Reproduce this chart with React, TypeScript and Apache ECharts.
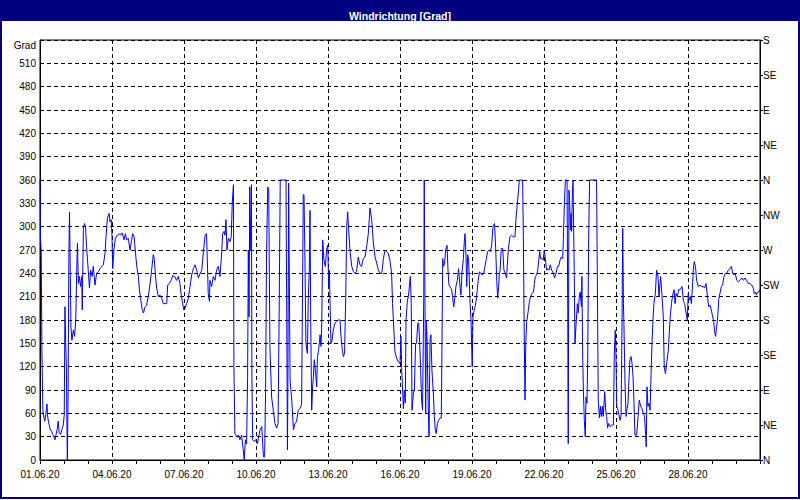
import React, { useEffect, useRef } from "react";
import * as echarts from "echarts";

const chartTitle = "Windrichtung [Grad]";
const leftAxisName = "Grad";
const startYear = 2020;
const startMonth = 5; // June (0-based)
const startDay = 1;
const compassLabels = ["N", "NE", "E", "SE", "S", "SW", "W", "NW", "N", "NE", "E", "SE", "S"];

// time in days since 01.06.20 00:00
const dayOffsets = [
  0.0, 0.02, 0.05, 0.08, 0.12, 0.16, 0.2, 0.25, 0.29, 0.31, 0.35, 0.42, 0.48, 0.53, 0.58, 0.625, 0.67, 0.72, 0.76, 0.8,
  0.86, 0.92, 0.97, 1.01, 1.04, 1.07, 1.1, 1.12, 1.14, 1.17, 1.2, 1.23, 1.26, 1.29, 1.33, 1.39, 1.44, 1.49, 1.53, 1.56,
  1.6, 1.64, 1.69, 1.74, 1.76, 1.81, 1.86, 1.9, 1.94, 2.01, 2.06, 2.11, 2.17, 2.22, 2.29, 2.36, 2.43, 2.5, 2.57, 2.64,
  2.71, 2.75, 2.81, 2.88, 2.92, 2.97, 3.0, 3.03, 3.08, 3.14, 3.22, 3.31, 3.36, 3.43, 3.5, 3.56, 3.61, 3.68, 3.75, 3.81,
  3.86, 3.92, 3.97, 4.03, 4.1, 4.14, 4.19, 4.25, 4.31, 4.38, 4.44, 4.51, 4.58, 4.65, 4.72, 4.76, 4.81, 4.86, 4.93, 5.0,
  5.07, 5.14, 5.21, 5.28, 5.32, 5.39, 5.46, 5.53, 5.61, 5.69, 5.76, 5.83, 5.875, 5.93, 5.99, 6.04, 6.11, 6.18, 6.25, 6.32,
  6.39, 6.46, 6.53, 6.6, 6.67, 6.74, 6.81, 6.88, 6.94, 7.01, 7.06, 7.08, 7.15, 7.22, 7.29, 7.36, 7.43, 7.5, 7.57, 7.61,
  7.67, 7.71, 7.75, 7.79, 7.85, 7.92, 7.97, 8.01, 8.06, 8.08, 8.12, 8.19, 8.26, 8.33, 8.4, 8.47, 8.51, 8.56, 8.61, 8.65,
  8.68, 8.71, 8.74, 8.76, 8.81, 8.83, 8.86, 8.92, 9.0, 9.06, 9.11, 9.17, 9.24, 9.31, 9.36, 9.4, 9.44, 9.49, 9.53, 9.58,
  9.65, 9.72, 9.79, 9.86, 9.92, 9.97, 10.01, 10.25, 10.28, 10.31, 10.33, 10.36, 10.42, 10.49, 10.56, 10.62, 10.69, 10.76, 10.83, 10.9,
  10.97, 11.0, 11.04, 11.08, 11.14, 11.18, 11.22, 11.25, 11.28, 11.32, 11.36, 11.39, 11.43, 11.47, 11.53, 11.56, 11.61, 11.67, 11.71, 11.74,
  11.78, 11.83, 11.89, 11.94, 11.99, 12.03, 12.06, 12.08, 12.125, 12.17, 12.22, 12.29, 12.36, 12.43, 12.5, 12.54, 12.6, 12.64, 12.69, 12.74,
  12.78, 12.82, 12.86, 12.92, 12.99, 13.06, 13.125, 13.19, 13.26, 13.33, 13.4, 13.47, 13.54, 13.61, 13.68, 13.75, 13.82, 13.89, 13.96, 14.03,
  14.1, 14.17, 14.24, 14.31, 14.375, 14.44, 14.51, 14.58, 14.65, 14.69, 14.75, 14.79, 14.86, 14.93, 15.0, 15.04, 15.07, 15.11, 15.14, 15.18,
  15.22, 15.25, 15.31, 15.35, 15.39, 15.43, 15.47, 15.5, 15.56, 15.6, 15.65, 15.69, 15.74, 15.78, 15.82, 15.86, 15.9, 15.94, 15.99, 16.01,
  16.04, 16.07, 16.1, 16.125, 16.17, 16.21, 16.25, 16.29, 16.33, 16.39, 16.43, 16.47, 16.51, 16.56, 16.61, 16.67, 16.72, 16.75, 16.78, 16.81,
  16.86, 16.9, 16.96, 17.0, 17.04, 17.08, 17.15, 17.19, 17.24, 17.29, 17.33, 17.39, 17.44, 17.5, 17.54, 17.58, 17.64, 17.68, 17.71, 17.75,
  17.78, 17.82, 17.86, 17.92, 17.96, 17.99, 18.01, 18.04, 18.08, 18.125, 18.17, 18.22, 18.26, 18.31, 18.36, 18.43, 18.49, 18.54, 18.6, 18.65,
  18.71, 18.76, 18.82, 18.875, 18.94, 18.99, 19.03, 19.07, 19.11, 19.14, 19.17, 19.22, 19.28, 19.33, 19.39, 19.44, 19.51, 19.58, 19.65, 19.72,
  19.79, 19.83, 19.89, 19.94, 19.97, 20.11, 20.14, 20.18, 20.21, 20.24, 20.28, 20.35, 20.39, 20.44, 20.5, 20.56, 20.6, 20.64, 20.69, 20.74,
  20.78, 20.82, 20.86, 20.92, 20.97, 21.01, 21.06, 21.11, 21.15, 21.21, 21.26, 21.32, 21.39, 21.44, 21.5, 21.56, 21.61, 21.67, 21.72, 21.78,
  21.805, 21.85, 21.89, 21.96, 21.99, 22.01, 22.04, 22.07, 22.1, 22.125, 22.15, 22.18, 22.21, 22.24, 22.26, 22.29, 22.33, 22.39, 22.43, 22.47,
  22.51, 22.56, 22.58, 22.61, 22.64, 22.68, 22.72, 22.75, 22.79, 22.82, 22.86, 22.9, 23.19, 23.22, 23.26, 23.31, 23.35, 23.39, 23.43, 23.47,
  23.53, 23.57, 23.61, 23.65, 23.69, 23.75, 23.82, 23.89, 23.93, 23.97, 24.0, 24.03, 24.07, 24.11, 24.17, 24.21, 24.25, 24.28, 24.31, 24.33,
  24.375, 24.42, 24.46, 24.5, 24.54, 24.58, 24.625, 24.67, 24.71, 24.75, 24.79, 24.86, 24.92, 24.97, 25.03, 25.08, 25.14, 25.19, 25.24, 25.26,
  25.29, 25.33, 25.375, 25.42, 25.46, 25.5, 25.54, 25.58, 25.64, 25.69, 25.75, 25.79, 25.83, 25.86, 25.92, 25.97, 26.01, 26.06, 26.11, 26.18,
  26.22, 26.26, 26.31, 26.36, 26.42, 26.46, 26.5, 26.56, 26.61, 26.67, 26.71, 26.75, 26.81, 26.86, 26.92, 26.97, 27.01, 27.06, 27.1, 27.14,
  27.18, 27.22, 27.26, 27.31, 27.36, 27.43, 27.5, 27.57, 27.64, 27.69, 27.75, 27.81, 27.86, 27.92, 27.97, 28.03, 28.07, 28.11, 28.15, 28.19,
  28.24, 28.28, 28.33, 28.39, 28.44, 28.5, 28.56, 28.61, 28.68, 28.75, 28.81, 28.86, 28.92, 28.97, 29.03, 29.1, 29.17, 29.24, 29.31, 29.375,
  29.44, 29.51, 29.58, 29.65, 29.72, 29.76, 29.81, 29.85, 29.9, 29.96, 30.0,
];

// wind direction in degrees
const directionDeg = [
  360, 285, 270, 140, 64, 55, 50, 60, 72, 58, 50, 40, 37, 33, 30, 26, 33, 40, 50, 35,
  33, 40, 45, 58, 197, 150, 120, 50, 0, 81, 253, 319, 244, 171, 154, 167, 159, 180, 244, 279,
  227, 236, 223, 236, 193, 300, 304, 298, 274, 244, 221, 244, 236, 249, 225, 240, 242, 246, 249, 251,
  266, 287, 311, 317, 306, 309, 287, 246, 270, 285, 289, 291, 289, 292, 283, 291, 283, 285, 270, 281,
  291, 287, 270, 249, 236, 219, 208, 195, 189, 197, 199, 210, 225, 244, 264, 259, 238, 221, 210, 212,
  208, 201, 201, 201, 225, 227, 231, 237, 236, 231, 236, 227, 214, 204, 193, 195, 201, 208, 223, 238,
  246, 251, 244, 234, 240, 244, 268, 289, 291, 214, 204, 231, 223, 236, 231, 244, 249, 236, 266, 291,
  294, 289, 309, 270, 285, 281, 287, 330, 354, 120, 34, 30, 32, 26, 32, 13, 0, 26, 21, 107,
  270, 184, 351, 270, 354, 107, 26, 24, 26, 21, 30, 39, 43, 4, 4, 90, 266, 351, 347, 146,
  81, 64, 47, 41, 47, 206, 360, 360, 189, 13, 103, 356, 103, 77, 39, 47, 49, 64, 66, 71,
  341, 341, 257, 150, 137, 210, 244, 321, 180, 64, 94, 107, 129, 116, 94, 133, 141, 161, 146, 176,
  283, 257, 249, 270, 276, 223, 244, 210, 150, 154, 167, 176, 178, 180, 180, 159, 141, 133, 137, 210,
  300, 319, 296, 268, 249, 242, 240, 242, 261, 251, 249, 259, 261, 274, 291, 324, 309, 279, 261, 253,
  244, 240, 240, 259, 270, 268, 266, 257, 240, 201, 163, 139, 131, 126, 124, 159, 116, 90, 66, 90,
  73, 180, 206, 210, 223, 236, 201, 64, 86, 90, 150, 150, 176, 176, 150, 116, 77, 64, 210, 360,
  210, 60, 180, 159, 77, 30, 154, 161, 116, 86, 56, 39, 34, 47, 51, 54, 54, 154, 259, 249,
  253, 270, 276, 244, 225, 223, 219, 210, 197, 210, 223, 231, 246, 223, 212, 240, 259, 281, 291, 261,
  223, 264, 257, 201, 180, 141, 120, 184, 191, 197, 204, 219, 231, 242, 240, 238, 240, 249, 259, 268,
  270, 268, 276, 300, 304, 270, 231, 208, 223, 240, 244, 272, 272, 244, 240, 234, 270, 287, 289, 287,
  287, 309, 330, 347, 360, 360, 287, 148, 77, 150, 178, 193, 204, 210, 214, 216, 227, 236, 238, 244,
  257, 268, 259, 259, 257, 270, 257, 244, 246, 244, 251, 244, 240, 234, 240, 249, 249, 257, 261, 259,
  283, 330, 360, 360, 191, 21, 347, 330, 296, 317, 294, 339, 360, 287, 244, 150, 171, 201, 189, 210,
  216, 197, 236, 139, 90, 51, 30, 81, 73, 126, 283, 360, 360, 244, 77, 54, 69, 56, 69, 56,
  88, 64, 56, 41, 47, 43, 45, 45, 137, 167, 133, 69, 66, 60, 51, 56, 171, 298, 201, 176,
  99, 56, 66, 73, 103, 129, 133, 124, 107, 73, 32, 32, 56, 77, 69, 66, 60, 56, 30, 17,
  94, 69, 73, 64, 109, 150, 180, 201, 214, 244, 236, 210, 225, 236, 210, 184, 120, 111, 124, 141,
  163, 184, 201, 212, 219, 201, 214, 210, 219, 219, 221, 223, 204, 201, 189, 180, 214, 206, 210, 201,
  219, 244, 255, 249, 231, 223, 225, 223, 223, 221, 227, 210, 197, 199, 193, 184, 178, 165, 159, 171,
  184, 206, 214, 223, 225, 236, 240, 240, 244, 246, 249, 240, 238, 240, 231, 229, 231, 234, 231, 234,
  231, 227, 227, 225, 221, 214, 216, 212, 216, 216, 219,
];

const FONT = "'Liberation Sans', Arial, sans-serif";
const pad2 = (n: number) => (n < 10 ? "0" + n : String(n));

function formatDay(v: number): string {
  if (v >= 30) return "";
  const d = new Date(startYear, startMonth, startDay + Math.round(v));
  return pad2(d.getDate()) + "." + pad2(d.getMonth() + 1) + "." + pad2(d.getFullYear() % 100);
}

export default function App() {
  const ref = useRef<HTMLDivElement>(null);

  useEffect(() => {
    if (!ref.current) return;
    const chart = echarts.init(ref.current, undefined, { renderer: "svg" });
    const seriesData = dayOffsets.map((d, i) => [d, directionDeg[i]]);
    chart.setOption({
      animation: false,
      backgroundColor: "#ffffff",
      title: {
        text: chartTitle,
        left: "center",
        top: 4,
        textStyle: { color: "#ffffff", fontFamily: FONT, fontSize: 10.5, fontWeight: "bold", lineHeight: 13 },
        z: 10,
      },
      graphic: [
        {
          type: "rect",
          shape: { x: 0, y: 0, width: 800, height: 21 },
          style: { fill: "#000080" },
          z: -10,
          silent: true,
        },
        {
          type: "rect",
          shape: { x: 1, y: 1, width: 798, height: 497 },
          style: { fill: "none", stroke: "#000080", lineWidth: 2 },
          z: -10,
          silent: true,
        },
      ],
      grid: {
        left: 40,
        top: 40,
        width: 720,
        height: 420,
        show: true,
        borderColor: "#000000",
        borderWidth: 1,
        backgroundColor: "#ffffff",
      },
      xAxis: {
        type: "value",
        min: 0,
        max: 30,
        interval: 3,
        axisLine: { show: true, lineStyle: { color: "#000000", width: 1 } },
        axisTick: { show: true, length: 4, lineStyle: { color: "#000000" } },
        minorTick: { show: true, splitNumber: 3, length: 4, lineStyle: { color: "#000000" } },
        splitLine: { show: true, lineStyle: { color: "#000000", width: 1, type: [4, 3] } },
        axisLabel: { formatter: formatDay, color: "#000000", fontFamily: FONT, fontSize: 10, margin: 9 },
      },
      yAxis: [
        {
          type: "value",
          position: "left",
          min: 0,
          max: 540,
          interval: 30,
          axisLine: { show: true, lineStyle: { color: "#000000" } },
          axisTick: { show: false },
          splitLine: { show: true, lineStyle: { color: "#000000", width: 1, type: [4, 3] } },
          axisLabel: {
            color: "#000000",
            fontFamily: FONT,
            fontSize: 10,
            margin: 4,
            formatter: (v: number) => (v === 540 ? "{g|" + leftAxisName + "}" : String(v)),
            rich: { g: { fontFamily: FONT, fontSize: 10, color: "#000000", padding: [10, 0, 0, 0] } },
          },
        },
        {
          type: "value",
          position: "right",
          min: 0,
          max: 540,
          interval: 45,
          axisLine: { show: true, lineStyle: { color: "#000000" } },
          axisTick: { show: true, length: 3, lineStyle: { color: "#000000" } },
          splitLine: { show: false },
          axisLabel: {
            color: "#000000",
            fontFamily: FONT,
            fontSize: 10,
            margin: 3,
            formatter: (v: number) => compassLabels[Math.round(v / 45)] ?? "",
          },
        },
      ],
      series: [
        {
          type: "line",
          xAxisIndex: 0,
          yAxisIndex: 0,
          data: seriesData,
          symbol: "none",
          color: "#0000ff",
          lineStyle: { color: "#0000ff", width: 1 },
          clip: true,
        },
      ],
    });
    return () => chart.dispose();
  }, []);

  return (
    <div
      ref={ref}
      style={{ position: "absolute", left: 0, top: 0, width: 800, height: 500 }}
    />
  );
}
